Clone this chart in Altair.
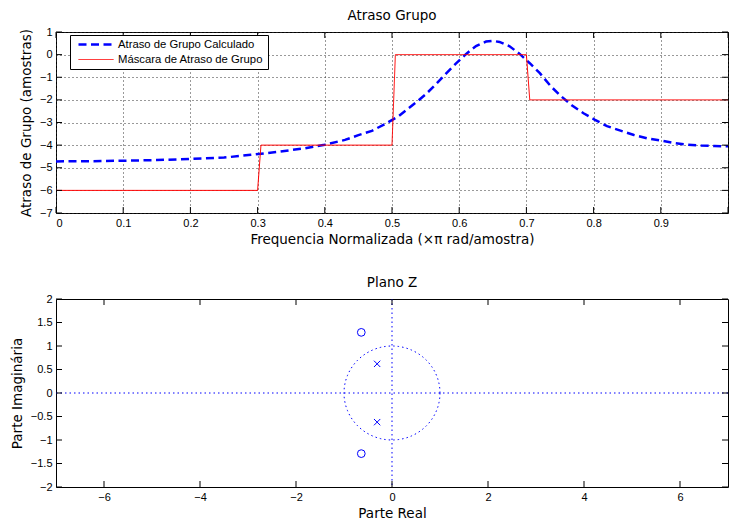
import altair as alt
import pandas as pd
import numpy as np

# ---------------- data ----------------
freq = [0.00, 0.05, 0.10, 0.15, 0.20, 0.25, 0.29, 0.33, 0.37, 0.40, 0.43, 0.45,
        0.47, 0.49, 0.51, 0.535, 0.55, 0.565, 0.58, 0.595, 0.61, 0.625, 0.64,
        0.65, 0.66, 0.675, 0.69, 0.705, 0.72, 0.737, 0.752, 0.768, 0.785, 0.802,
        0.82, 0.84, 0.86, 0.88, 0.90, 0.92, 0.94, 0.96, 0.98, 1.00]
delay = [-4.72, -4.71, -4.69, -4.66, -4.61, -4.55, -4.43, -4.30, -4.14, -3.98, -3.77, -3.56,
         -3.37, -3.06, -2.72, -2.13, -1.76, -1.32, -0.85, -0.40, 0.02, 0.38, 0.58,
         0.61, 0.56, 0.37, 0.03, -0.38, -0.82, -1.42, -1.85, -2.25, -2.59, -2.88,
         -3.16, -3.36, -3.55, -3.70, -3.80, -3.91, -3.98, -4.02, -4.04, -4.05]
mask_freq = [0.0, 0.3, 0.305, 0.5, 0.505, 0.7, 0.705, 1.0]
mask_delay = [-6, -6, -4, -4, 0, 0, -2, -2]
series_names = ["Atraso de Grupo Calculado", "Máscara de Atraso de Grupo"]

x_ticks_top = [0.0, 0.1, 0.2, 0.3, 0.4, 0.5, 0.6, 0.7, 0.8, 0.9, 1.0]
y_ticks_top = [-7, -6, -5, -4, -3, -2, -1, 0, 1]

zeros_re = [-0.64, -0.64]
zeros_im = [1.29, -1.29]
poles_re = [-0.31, -0.31]
poles_im = [0.62, -0.62]
x_ticks_bot = [-6, -4, -2, 0, 2, 4, 6]
y_ticks_bot = [-2, -1.5, -1, -0.5, 0, 0.5, 1, 1.5, 2]
real_axis_im = [0]
imag_axis_re = [0]

# ---------------- style ----------------
W = 672
H1 = 181
H2 = 188
TL = 6
BLUE = "#0000ff"
RED = "#ff0000"
TITLE_FONT = "DejaVu Sans"
LABEL_FONT = "Liberation Sans"
TFS = 13.5

lines_df = pd.concat([
    pd.DataFrame({"f": freq, "d": delay, "s": series_names[0]}),
    pd.DataFrame({"f": mask_freq, "d": mask_delay, "s": series_names[1]}),
])

xs1 = alt.Scale(domain=[0, 1], nice=False, zero=False)
ys1 = alt.Scale(domain=[-7, 1], nice=False, zero=False)
ax1 = alt.Axis(values=x_ticks_top, labelOverlap=False,
               labelExpr="datum.value > 0.95 ? '' : format(datum.value, '~g')",
               grid=True, gridDash=[1, 3], gridColor="#333333")
ay1 = alt.Axis(values=y_ticks_top, format="d", grid=True, labelOverlap=False,
               gridDash=[1, 3], gridColor="#333333")
XT1 = "Frequencia Normalizada (×π rad/amostra)"
YT1 = "Atraso de Grupo (amostras)"

leg = alt.Legend(title=None, orient="none", legendX=14, legendY=3,
                 strokeColor="black", fillColor="white", padding=4,
                 symbolType="stroke", symbolSize=1225, symbolOffset=3,
                 clipHeight=11, labelOffset=3, rowPadding=3, labelFont=LABEL_FONT,
                 labelFontSize=11.3, labelColor="black", cornerRadius=0,
                 labelLimit=300)

lines = alt.Chart(lines_df).mark_line(clip=True).encode(
    x=alt.X("f:Q", scale=xs1, title=XT1, axis=ax1),
    y=alt.Y("d:Q", scale=ys1, title=YT1, axis=ay1),
    color=alt.Color("s:N", scale=alt.Scale(domain=series_names, range=[BLUE, RED]), legend=leg),
    strokeDash=alt.StrokeDash("s:N", scale=alt.Scale(domain=series_names, range=[[8, 4.5], [1, 0]]), legend=leg),
    strokeWidth=alt.StrokeWidth("s:N", scale=alt.Scale(domain=series_names, range=[2.5, 1]), legend=leg),
)

xt1 = pd.DataFrame({"f": x_ticks_top})
yt1 = pd.DataFrame({"d": y_ticks_top})
X1 = alt.X("f:Q", scale=xs1, title=XT1, axis=ax1)
Y1 = alt.Y("d:Q", scale=ys1, title=YT1, axis=ay1)
tk_b1 = alt.Chart(xt1).mark_rule(color="black").encode(x=X1, y=alt.value(H1 - TL), y2=alt.value(H1))
tk_t1 = alt.Chart(xt1).mark_rule(color="black").encode(x=X1, y=alt.value(0), y2=alt.value(TL))
tk_l1 = alt.Chart(yt1).mark_rule(color="black").encode(y=Y1, x=alt.value(0), x2=alt.value(TL))
tk_r1 = alt.Chart(yt1).mark_rule(color="black").encode(y=Y1, x=alt.value(W - TL), x2=alt.value(W))

top = alt.layer(lines, tk_b1, tk_t1, tk_l1, tk_r1).properties(
    width=W, height=H1,
    title=alt.TitleParams("Atraso Grupo", font=TITLE_FONT, fontSize=TFS,
                          fontWeight="normal", color="black", offset=4))

# ---------------- z-plane ----------------
xs2 = alt.Scale(domain=[-7, 7], nice=False, zero=False)
ys2 = alt.Scale(domain=[-2, 2], nice=False, zero=False)
ax2 = alt.Axis(values=x_ticks_bot, format="d", grid=False, labelOverlap=False)
ay2 = alt.Axis(values=y_ticks_bot, format="~g", grid=False, labelOverlap=False)
X2 = alt.X("re:Q", scale=xs2, title="Parte Real", axis=ax2)
Y2 = alt.Y("im:Q", scale=ys2, title="Parte Imaginária", axis=ay2)

theta = np.linspace(0, 2 * np.pi, 181)
circle_df = pd.DataFrame({"re": np.cos(theta), "im": np.sin(theta), "i": np.arange(len(theta))})

circ = alt.Chart(circle_df).mark_line(color=BLUE, strokeWidth=1, strokeDash=[1.5, 3]).encode(
    x=X2, y=Y2, order="i:Q")
hline = alt.Chart(pd.DataFrame({"im": real_axis_im})).mark_rule(
    color=BLUE, strokeWidth=1, strokeDash=[1.5, 3]).encode(y=Y2, x=alt.value(0), x2=alt.value(W))
vline = alt.Chart(pd.DataFrame({"re": imag_axis_re})).mark_rule(
    color=BLUE, strokeWidth=1, strokeDash=[1.5, 3]).encode(x=X2, y=alt.value(0), y2=alt.value(H2))

zeros = alt.Chart(pd.DataFrame({"re": zeros_re, "im": zeros_im})).mark_point(
    shape="circle", filled=False, size=60, color=BLUE, strokeWidth=1, opacity=1
).encode(x=X2, y=Y2)
poles = alt.Chart(pd.DataFrame({"re": poles_re, "im": poles_im})).mark_point(
    shape="M-1,-1L1,1M-1,1L1,-1", filled=False, size=40, color=BLUE, strokeWidth=1, opacity=1
).encode(x=X2, y=Y2)

xt2 = pd.DataFrame({"re": x_ticks_bot})
yt2 = pd.DataFrame({"im": y_ticks_bot})
tk_b2 = alt.Chart(xt2).mark_rule(color="black").encode(x=X2, y=alt.value(H2 - TL), y2=alt.value(H2))
tk_t2 = alt.Chart(xt2).mark_rule(color="black").encode(x=X2, y=alt.value(0), y2=alt.value(TL))
tk_l2 = alt.Chart(yt2).mark_rule(color="black").encode(y=Y2, x=alt.value(0), x2=alt.value(TL))
tk_r2 = alt.Chart(yt2).mark_rule(color="black").encode(y=Y2, x=alt.value(W - TL), x2=alt.value(W))

bottom = alt.layer(circ, hline, vline, zeros, poles, tk_b2, tk_t2, tk_l2, tk_r2).properties(
    width=W, height=H2,
    title=alt.TitleParams("Plano Z", font=TITLE_FONT, fontSize=TFS,
                          fontWeight="normal", color="black", offset=4))

chart = alt.vconcat(top, bottom, spacing=29).properties(
    padding={"left": 1, "top": 0, "right": 0, "bottom": 0}
).configure_view(stroke="black", strokeWidth=1).configure_axis(
    domain=False, ticks=False, labelFont=LABEL_FONT, labelFontSize=11,
    labelColor="black", labelPadding=4, labelOverlap=False, titleFont=TITLE_FONT,
    titleFontSize=TFS, titleFontWeight="normal", titleColor="black", titlePadding=6
).configure_axisX(labelPadding=4, titlePadding=4)

chart.save("out.html", embed_options={"renderer": "svg", "actions": False})
